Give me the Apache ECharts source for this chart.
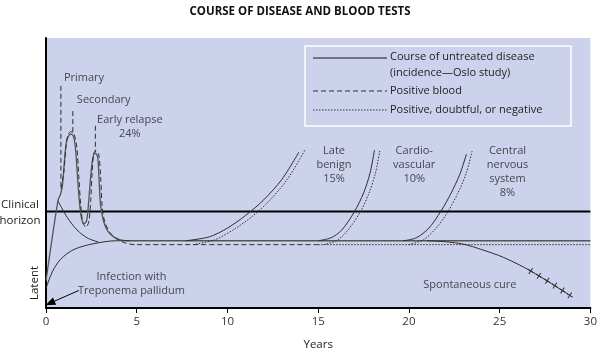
<!DOCTYPE html>
<html><head><meta charset="utf-8">
<script src="https://cdn.jsdelivr.net/npm/echarts@6/dist/echarts.min.js"></script>
<style>html,body{margin:0;padding:0;background:#fff}#c{width:600px;height:356px}</style>
</head><body><div id="c"></div>
<script>
// ---- data (x = years, y = arbitrary severity scale) ----
const xTicks = [0, 5, 10, 15, 20, 25, 30];
const clinicalHorizon = 99;
const course = [[0,28],[0.657,110],[0.805,117],[0.903,125],[1.013,150],[1.122,170],[1.259,177],[1.396,178.5],[1.533,175],[1.642,160],[1.752,130],[1.861,105],[1.97,91],[2.107,86.5],[2.244,90],[2.354,110],[2.463,135],[2.573,153],[2.709,159],[2.846,155],[2.928,130],[3.01,105],[3.175,89],[3.394,79],[3.722,73],[4.105,70],[4.598,69],[30,69]];
const primaryDecay = [[0.657,110],[1.166,93],[1.713,80],[2.261,72],[2.9,67.5]];
const latentRise = [[0,20],[0.345,37],[0.805,50],[1.533,60],[2.627,66],[3.886,69],[4.6,69]];
const positiveBlood = [[0.821,122],[0.985,140],[1.095,165],[1.204,177],[1.368,181],[1.533,179],[1.697,165],[1.806,135],[1.916,105],[2.025,88],[2.189,83],[2.354,88],[2.463,110],[2.545,140],[2.627,158],[2.737,161.5],[2.901,158],[3.01,135],[3.092,105],[3.229,89],[3.503,78],[3.886,71],[4.324,67],[4.871,65],[15,65]];
const doubtfulTail = [[15,65],[30,65]];
const lateBenignSolid = [[7.7,69],[9,73],[10,82],[11,95],[12,111],[13,132],[13.94,160]];
const lateBenignDotted = [[8.1,65],[9.3,70],[10.3,80],[11.3,93],[12.3,110],[13.3,132],[14.27,162]];
const cardioSolid = [[15.0,69],[15.7,72],[16.3,80],[17.0,99],[17.5,118],[17.85,138],[18.1,162]];
const cardioDotted = [[15.3,65],[16.0,69],[16.6,79],[17.33,99],[17.8,118],[18.15,138],[18.4,162]];
const cnsSolid = [[19.7,69],[20.4,72],[21.1,82],[21.75,99],[22.3,117],[22.8,137],[23.17,158]];
const cnsDotted = [[20.0,65],[20.8,70],[21.5,82],[22.15,99],[22.7,118],[23.15,138],[23.48,161]];
const spontaneousCure = [[21,69],[22,68],[23,65.5],[24,60],[25.2,52],[26.71,38],[28.86,13]];
const cureCrosses = [[26.71,38],[27.16,33],[27.62,28],[28.04,23],[28.46,18],[28.86,13]];
const primaryMarker = [[0.821,228],[0.821,122]];
const secondaryMarker = [[1.478,202],[1.478,178]];
const relapseMarker = [[2.72,187],[2.72,160]];
const arrowFrom = [1.81,18];
const arrowTo = [0.22,5];
const notes = [
  {text:'Primary', at:[0.985,236], align:'left'},
  {text:'Secondary', at:[1.70,214], align:'left'},
  {text:'Early relapse\n24%', at:[4.62,186], align:'center'},
  {text:'Late\nbenign\n15%', at:[15.87,146.5], align:'center'},
  {text:'Cardio-\nvascular\n10%', at:[20.29,146.5], align:'center'},
  {text:'Central\nnervous\nsystem\n8%', at:[25.43,139.2], align:'center'},
  {text:'Spontaneous cure', at:[23.36,23.3], align:'center'},
  {text:'Infection with\nTreponema pallidum', at:[4.71,25], align:'center'}
];
const legendItems = ['Course of untreated disease\n(incidence\u2014Oslo study)', 'Positive blood', 'Positive, doubtful, or negative'];

// ---- rendering ----
const FONT = 'Open Sans';
const ink = '#2e2e2e';
const chart = echarts.init(document.getElementById('c'));
function ln(name, data, type, extra) {
  return Object.assign({
    type: 'line', name: name, data: data, symbol: 'none', showSymbol: false,
    smooth: 0.3, silent: true, animation: false, z: 3,
    lineStyle: {color: ink, width: 1, type: type}
  }, extra || {});
}
const dash = [5, 3], dot = [1.5, 1.5];
const plus = 'path://M4.3,0L5.7,0L5.7,4.3L10,4.3L10,5.7L5.7,5.7L5.7,10L4.3,10L4.3,5.7L0,5.7L0,4.3L4.3,4.3Z';

const series = [
  ln('horizon', [[0, clinicalHorizon], [30, clinicalHorizon]], 'solid', {smooth:false, lineStyle:{color:'#000', width:2},
    markLine: {silent:true, animation:false, symbol:['none','triangle'], symbolSize:[8,10],
      label:{show:false}, lineStyle:{color:'#000', width:1, type:'solid'},
      data:[[{coord: arrowFrom}, {coord: arrowTo}]]}}),
  ln(legendItems[0], course, 'solid', {lineStyle:{color:'#555', width:1.3}}),
  ln('decay', primaryDecay, 'solid'),
  ln('latent', latentRise, 'solid'),
  ln(legendItems[1], positiveBlood, dash),
  ln(legendItems[2], doubtfulTail, dot, {smooth:false}),
  ln('lbS', lateBenignSolid, 'solid'),
  ln('lbD', lateBenignDotted, dot),
  ln('cvS', cardioSolid, 'solid'),
  ln('cvD', cardioDotted, dot),
  ln('cnsS', cnsSolid, 'solid'),
  ln('cnsD', cnsDotted, dot),
  ln('cure', spontaneousCure, 'solid'),
  ln('crosses', cureCrosses, 'solid', {smooth:false, showSymbol:true, symbol: plus, symbolSize: 7, symbolRotate: -33,
     itemStyle:{color: ink}, lineStyle:{width:0}}),
  ln('m1', primaryMarker, dash, {smooth:false}),
  ln('m2', secondaryMarker, dash, {smooth:false}),
  ln('m3', relapseMarker, dash, {smooth:false}),
  {
    type: 'scatter', name: 'notes', silent: true, animation: false, clip: false, symbolSize: 0, z: 5,
    data: notes.map(n => ({value: n.at, label: {show: true, position: 'inside', formatter: n.text, align: n.align,
      verticalAlign: 'middle', fontFamily: FONT, fontSize: 11, lineHeight: 14, color: '#222'}}))
  }
];

const lx0 = 313, lx1 = 387;
const legendGraphic = [
  {type:'rect', shape:{x:305, y:46, width:266, height:80}, style:{fill:'none', stroke:'#fff', lineWidth:1.5}, z:10},
  {type:'line', shape:{x1:lx0, y1:58, x2:lx1, y2:58}, style:{stroke:'#555', lineWidth:1.3}, z:10},
  {type:'line', shape:{x1:lx0, y1:91, x2:lx1, y2:91}, style:{stroke:ink, lineWidth:1, lineDash:dash}, z:10},
  {type:'line', shape:{x1:lx0, y1:110, x2:lx1, y2:110}, style:{stroke:ink, lineWidth:1, lineDash:dot}, z:10},
  {type:'text', x:390, y:64.5, style:{text:legendItems[0], font:'11px "Open Sans"', fill:'#222', verticalAlign:'middle', lineHeight:16}, z:10},
  {type:'text', x:390, y:91, style:{text:legendItems[1], font:'11px "Open Sans"', fill:'#222', verticalAlign:'middle'}, z:10},
  {type:'text', x:390, y:110, style:{text:legendItems[2], font:'11px "Open Sans"', fill:'#222', verticalAlign:'middle'}, z:10},
  {type:'text', x:20, y:213, style:{text:'Clinical\nhorizon', font:'11.5px "Open Sans"', fill:'#222', align:'center', verticalAlign:'middle', lineHeight:16}, z:10},
  {type:'text', x:35, y:283, rotation: Math.PI/2, style:{text:'Latent', font:'11.5px "Open Sans"', fill:'#222', align:'center', verticalAlign:'middle'}, z:10}
];

chart.setOption({
  animation: false,
  title: {text:'COURSE OF DISEASE AND BLOOD TESTS', left:'center', top:1,
    textStyle:{fontFamily:FONT, fontSize:11.5, fontWeight:'bold', color:'#111'}},
  grid: {left:46, right:6, top:38, bottom:41, show:true, backgroundColor:'#cdd2ec', borderWidth:0},
  xAxis: {type:'value', min:xTicks[0], max:xTicks[xTicks.length-1], interval:5,
    name:'Years', nameLocation:'middle', nameGap:31, nameTextStyle:{fontFamily:FONT, fontSize:11.5, color:'#222'},
    axisLine:{show:true, lineStyle:{color:'#000', width:2}},
    axisTick:{show:true, length:5, lineStyle:{color:'#000', width:1}},
    axisLabel:{fontFamily:FONT, fontSize:11.5, color:'#333', margin:8},
    splitLine:{show:false}},
  yAxis: {type:'value', min:0, max:277, axisLine:{show:true, lineStyle:{color:'#000', width:2}},
    axisTick:{show:false}, axisLabel:{show:false}, splitLine:{show:false}},
  graphic: legendGraphic,
  series: series
});
</script></body></html>
